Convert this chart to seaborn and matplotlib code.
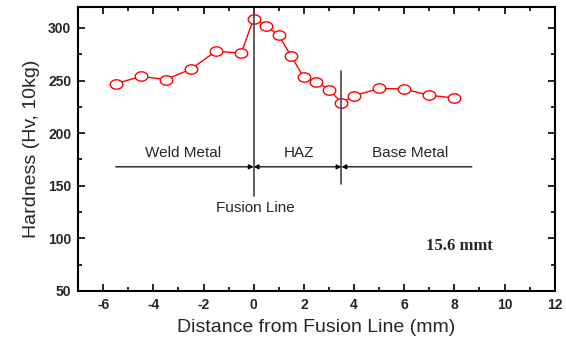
"""
Hardness profile across the weld fusion line (15.6 mm plate)
"""

import matplotlib
matplotlib.use("Agg")
import matplotlib.pyplot as plt
from matplotlib.path import Path
from matplotlib.ticker import MultipleLocator
import seaborn as sns
import numpy as np
import pandas as pd

# data
distance = [-5.5, -4.5, -3.5, -2.5, -1.5, -0.5, 0.0, 0.5, 1.0, 1.5,
            2.0, 2.5, 3.0, 3.5, 4.0, 5.0, 6.0, 7.0, 8.0]
hardness = [247, 254, 251, 261, 278, 276, 309, 302, 293, 273,
            253, 249, 241.5, 229, 235.5, 242.5, 242, 236, 233.5]

zone_labels = ["Weld Metal", "HAZ", "Base Metal"]
zone_bounds = [-5.5, 0.0, 3.5, 8.7]

df = pd.DataFrame({"distance": distance, "hardness": hardness})

sns.set_style("ticks")
plt.rcParams["font.family"] = ["Liberation Sans", "DejaVu Sans"]
plt.rcParams["axes.unicode_minus"] = False

# slightly flattened open circle, like the original marker
t = np.linspace(0, 2 * np.pi, 60)
ellipse = Path(np.column_stack([np.cos(t), 0.75 * np.sin(t)]), closed=True)

fig = plt.figure(figsize=(5.66, 3.48), dpi=100)
ax = fig.add_axes([0.138, 0.164, 0.842, 0.816])

sns.lineplot(data=df, x="distance", y="hardness", ax=ax, color="red",
             linewidth=1.0, marker=ellipse, markersize=9,
             markerfacecolor="white", markeredgecolor="red",
             markeredgewidth=1.0)

ax.set_xlim(-7, 12)
ax.set_ylim(50, 320)
ax.set_xticks(np.arange(-6, 13, 2))
ax.xaxis.set_minor_locator(MultipleLocator(1))
ax.yaxis.set_major_locator(MultipleLocator(50))
ax.yaxis.set_minor_locator(MultipleLocator(25))
ax.tick_params(which="both", direction="in", top=True, right=True,
               width=1.2, color="black")
ax.tick_params(which="major", length=5, labelsize=10, pad=5)
ax.tick_params(which="minor", length=3)
for lab in ax.get_xticklabels() + ax.get_yticklabels():
    lab.set_fontweight("bold")
for sp in ax.spines.values():
    sp.set_linewidth(1.5)
    sp.set_color("black")

ax.set_xlabel("Distance from Fusion Line (mm)", fontsize=14, labelpad=5)
ax.set_ylabel("Hardness (Hv, 10kg)", fontsize=14, labelpad=6)

# zone markers
ax.plot([0, 0], [140, 320], color="#444444", linewidth=1.2)
ax.plot([3.5, 3.5], [152, 259], color="#444444", linewidth=1.2)

arrow_y = 168
arrow_kw = dict(color="black", linewidth=0.9, shrinkA=0, shrinkB=0,
                mutation_scale=7)
ax.annotate("", xy=(zone_bounds[1], arrow_y), xytext=(zone_bounds[0], arrow_y),
            arrowprops=dict(arrowstyle="-|>", **arrow_kw))
ax.annotate("", xy=(zone_bounds[2], arrow_y), xytext=(zone_bounds[1], arrow_y),
            arrowprops=dict(arrowstyle="<|-|>", **arrow_kw))
ax.annotate("", xy=(zone_bounds[2], arrow_y), xytext=(zone_bounds[3], arrow_y),
            arrowprops=dict(arrowstyle="-|>", **arrow_kw))

label_x = [-2.8, 1.8, 6.25]
for lx, name in zip(label_x, zone_labels):
    ax.text(lx, 181, name, ha="center", va="center", fontsize=11)
ax.text(0.05, 129, "Fusion Line", ha="center", va="center", fontsize=11)

ax.text(8.2, 93, "15.6 mmt", ha="center", va="center", fontsize=12,
        fontweight="bold", family=["Liberation Serif", "DejaVu Serif"])

fig.savefig("out.png", dpi=100)
plt.close(fig)
